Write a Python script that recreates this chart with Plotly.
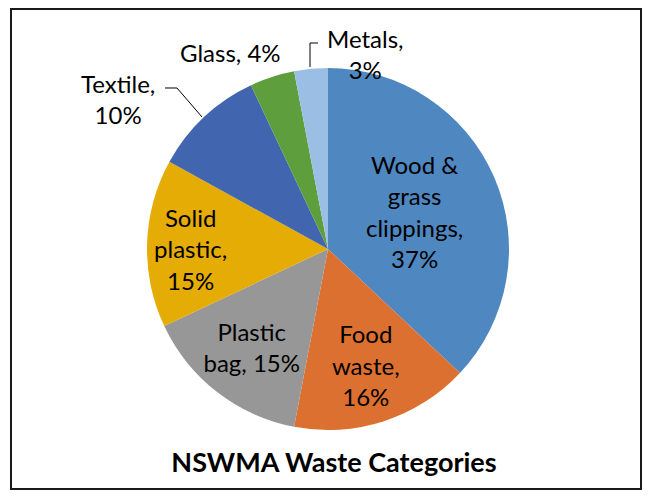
import plotly.graph_objects as go

W, H = 649, 496

# waste categories, clockwise from 12 o'clock
categories = ["Wood & grass clippings", "Food waste", "Plastic bag",
              "Solid plastic", "Textile", "Glass", "Metals"]
shares = [37, 16, 15, 15, 10, 4, 3]
slice_text = ["Wood &<br>grass<br>clippings,<br>", "Food<br>waste,<br>",
              "Plastic<br>bag, ", "Solid<br>plastic,<br>", "", "", ""]
colors = ["#4F88C0", "#DC7030", "#979797", "#E5AC05", "#4166AF", "#5F9E3C", "#9BBFE4"]

FONT = "Lato"
SIZE = 24


def px_x(x):
    return x / W


def px_y(y):
    return 1 - y / H


# only the big slices get text inside, the small ones are labelled outside
templates = ["%{text}%{percent:.0%}" if t else "" for t in slice_text]

fig = go.Figure(go.Pie(
    labels=categories,
    values=shares,
    text=slice_text,
    texttemplate=templates,
    textposition="inside",
    insidetextorientation="horizontal",
    sort=False,
    direction="clockwise",
    rotation=0,
    marker=dict(colors=colors, line=dict(width=0)),
    textfont=dict(family=FONT, size=SIZE, color="black"),
    domain=dict(x=[px_x(146), px_x(510)], y=[px_y(430), px_y(68)]),
    hoverinfo="label+percent",
    showlegend=False,
))

# outside labels for the small slices
outside = {
    "Textile": (118, 99, "%s,<br>%d%%"),
    "Glass": (230, 53, "%s, %d%%"),
    "Metals": (366, 54, "%s,<br>%d%%"),
}
annotations = []
for name, (x, y, fmt) in outside.items():
    v = shares[categories.index(name)]
    annotations.append(dict(
        x=px_x(x), y=px_y(y), xref="paper", yref="paper",
        text=fmt % (name, v), showarrow=False,
        font=dict(family=FONT, size=SIZE, color="black"),
        xanchor="center", yanchor="middle",
    ))

shapes = [
    # chart border
    dict(type="rect", xref="paper", yref="paper",
         x0=px_x(11), x1=px_x(641), y0=px_y(489), y1=px_y(9),
         line=dict(color="#1a1a1a", width=2)),
    # leader lines
    dict(type="path", xref="paper", yref="paper",
         path="M %f %f L %f %f L %f %f" % (px_x(165), px_y(88), px_x(177), px_y(88), px_x(202), px_y(117)),
         line=dict(color="black", width=1)),
    dict(type="path", xref="paper", yref="paper",
         path="M %f %f L %f %f L %f %f" % (px_x(318), px_y(43), px_x(310), px_y(43), px_x(310), px_y(67)),
         line=dict(color="black", width=1)),
]

fig.update_layout(
    width=W, height=H,
    margin=dict(l=0, r=0, t=0, b=0),
    paper_bgcolor="white",
    plot_bgcolor="white",
    title=dict(text="<b>NSWMA Waste Categories</b>", x=px_x(334), y=px_y(463),
               xanchor="center", yanchor="middle",
               font=dict(family=FONT, size=27, color="black")),
    uniformtext=dict(minsize=SIZE, mode="show"),
    annotations=annotations,
    shapes=shapes,
)

# drop the browser's default body margin so the figure sits at 0,0
fig.write_html("out.html", config={"displayModeBar": False},
               post_script="document.body.style.margin='0';")
